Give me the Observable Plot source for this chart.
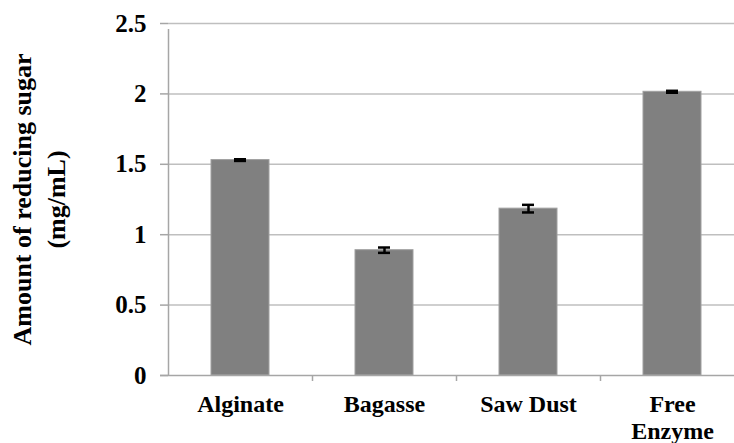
<!DOCTYPE html>
<html><head>
<meta charset="utf-8">
<script src="https://cdn.jsdelivr.net/npm/d3@7"></script>
<script src="https://cdn.jsdelivr.net/npm/@observablehq/plot@0.6"></script>
<style>
body{margin:0;background:#fff;overflow:hidden}
</style>
</head><body><div id="chart"></div>
<script>
const categories = ["Alginate", "Bagasse", "Saw Dust", "Free\nEnzyme"];
const values = [1.53, 0.89, 1.185, 2.015];
const errors = [0.006, 0.019, 0.027, 0.007];
const yTicks = [0, 0.5, 1, 1.5, 2, 2.5];
const yTitle = ["Amount of reducing sugar", "(mg/mL)"];

const data = categories.map((c, i) => ({c, v: values[i], e: errors[i]}));
const font = "Liberation Serif";
const axisGray = "#a6a6a6";

const chart = Plot.plot({
  width: 734,
  height: 443,
  marginLeft: 168,
  marginTop: 23,
  marginBottom: 68,
  marginRight: -10,
  style: {fontFamily: font, fontWeight: "bold", fontSize: "25px", color: "#000", background: "#fff", overflow: "hidden"},
  x: {domain: categories, paddingInner: 0.6, paddingOuter: 0.3, label: null},
  y: {domain: [0, 2.5], label: null},
  marks: [
    Plot.gridY(yTicks.slice(1), {stroke: "#bfbfbf", strokeOpacity: 1, strokeWidth: 1.5}),
    Plot.barY(data, {x: "c", y: "v", fill: "#808080", stroke: "#a0a0a0", strokeWidth: 1}),
    Plot.ruleX(data, {x: "c", y1: d => d.v - d.e, y2: d => d.v + d.e, stroke: "#000", strokeWidth: 2.5}),
    Plot.tickY(data, {x: "c", y: d => d.v - d.e, insetLeft: 23, insetRight: 23, stroke: "#000", strokeWidth: 2.5}),
    Plot.tickY(data, {x: "c", y: d => d.v + d.e, insetLeft: 23, insetRight: 23, stroke: "#000", strokeWidth: 2.5}),
    Plot.ruleY([0], {stroke: axisGray, strokeWidth: 1.5, insetLeft: -8}),
    Plot.ruleX([categories[0]], {x: d => d, dx: -72, y1: 0, y2: 2.5, insetBottom: -6, stroke: axisGray, strokeWidth: 1.5}),
    Plot.ruleX(categories.slice(1), {x: d => d, dx: -72, y1: 0, y2: 0, insetBottom: -6, stroke: axisGray, strokeWidth: 1.5}),
    Plot.axisY({ticks: yTicks, tickSize: 8, tickPadding: 14, tickFormat: d => String(d), stroke: axisGray, strokeWidth: 1.5, fontSize: 25, fontFamily: font, fontWeight: "bold", label: null}),
    Plot.axisX({tickSize: 0, tickPadding: 18, label: null, fontSize: 24, fontFamily: font, fontWeight: "bold", lineHeight: 1.11}),
    Plot.text([yTitle.join("\n")], {frameAnchor: "left", textAnchor: "middle", dx: -131, rotate: -90, lineHeight: 1.3, fontSize: 26, fontFamily: font, fontWeight: "bold"})
  ]
});
document.getElementById("chart").appendChild(chart);
</script>
</body></html>
